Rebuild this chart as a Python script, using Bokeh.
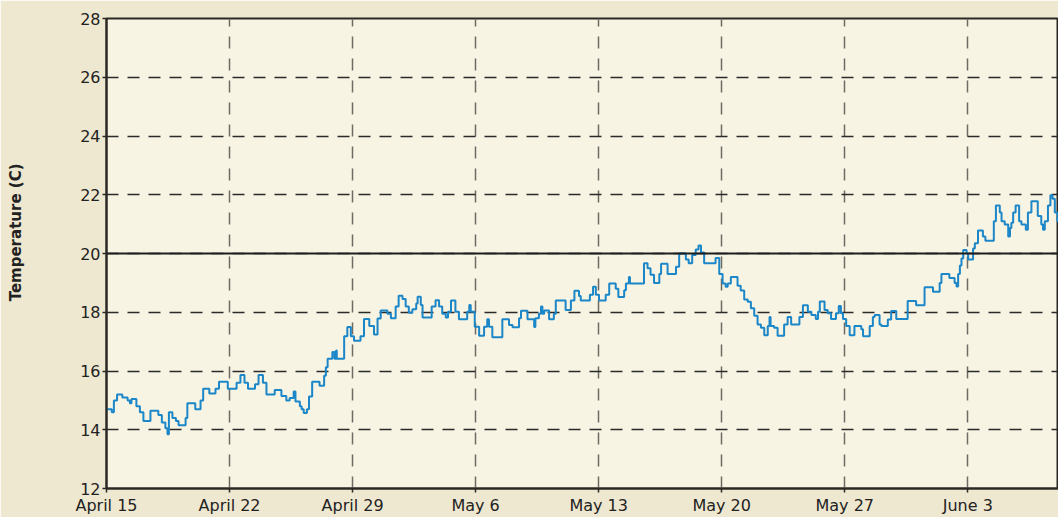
import re
from bokeh.plotting import figure
from bokeh.models import Range1d, FixedTicker, Span, Title
from bokeh.embed import file_html
from bokeh.resources import INLINE

# ---- data (days since April 15, temperature in C) ----
day = [
    0.00, 0.30, 0.42, 0.60, 0.90, 1.20, 1.33, 1.42, 1.70, 1.90, 2.10, 2.50, 2.95, 3.15, 3.35, 3.47, 3.55,
    3.75, 3.95, 4.10, 4.50, 4.60, 5.05, 5.35, 5.50, 5.85, 6.20, 6.40, 6.90, 7.40, 7.62, 7.85, 8.05, 8.45,
    8.65, 8.90, 9.10,
    9.57, 9.95, 10.23, 10.42, 10.65, 10.75, 11.00, 11.10, 11.22, 11.40, 11.52, 11.70, 12.12, 12.38, 12.48,
    12.58, 12.85, 12.97, 13.06, 13.10, 13.52, 13.70, 13.90, 14.08, 14.45, 14.65, 14.95, 15.22, 15.42, 15.60,
    15.98, 16.18, 16.45, 16.62, 16.84, 17.02, 17.20, 17.40, 17.62, 17.70, 17.88, 17.98, 18.50, 18.72, 18.92,
    19.10, 19.30,
    19.43, 19.60, 19.85, 20.05, 20.52, 20.64, 20.72, 20.95, 21.20, 21.48, 21.66, 21.76, 21.95, 22.52, 22.90,
    23.10, 23.47, 23.58, 23.95, 24.33, 24.40, 24.60, 24.72, 24.80, 24.90, 25.18, 25.45, 25.56, 26.12, 26.42,
    26.62, 26.88, 26.98, 27.50, 27.68, 27.84, 28.02, 28.40, 28.60,
    28.97, 29.12, 29.45, 29.55, 29.72, 29.78, 30.58, 30.78, 30.95, 31.15, 31.45, 31.55, 31.92, 32.40, 32.58,
    32.96, 33.12, 33.32, 33.52, 33.68, 33.82, 34.00, 34.65, 34.86, 35.05, 35.22, 35.34, 35.52, 35.90, 36.08,
    36.28, 36.48, 36.66, 36.85, 37.04, 37.23, 37.42, 37.62, 37.72, 37.78, 37.98, 38.18,
    38.55, 38.75, 38.95, 39.42, 39.62, 39.90, 40.10, 40.35, 40.48, 40.58, 40.85, 41.03, 41.22, 41.50, 41.66,
    41.78, 41.90, 42.08, 42.28, 42.55, 42.94, 43.04, 43.42, 43.60, 43.70, 43.98, 44.08, 44.45, 44.64, 44.93,
    45.58, 46.06, 46.54,
    47.02, 47.40, 47.50, 47.95, 48.25, 48.36, 48.45, 48.55, 48.64, 48.74, 48.93, 49.02, 49.30, 49.40, 49.58,
    49.86, 50.00, 50.48, 50.60, 50.82, 50.92, 51.10, 51.30, 51.40, 51.48, 51.58, 51.72, 51.92, 52.05, 52.30,
    52.42, 52.62, 52.98, 53.18, 53.28, 53.38, 53.56, 53.70, 53.82, 53.95, 54.10, 54.40,
]
temp_c = [
    14.7, 14.6, 15.0, 15.2, 15.1, 15.0, 14.9, 15.05, 14.8, 14.6, 14.3, 14.65, 14.5, 14.25, 14.05, 13.85, 14.6,
    14.4, 14.3, 14.15, 14.4, 14.9, 14.7, 15.0, 15.4, 15.23, 15.4, 15.63, 15.4, 15.6, 15.86, 15.6, 15.4, 15.55,
    15.86, 15.6, 15.2,
    15.35, 15.15, 15.0, 15.08, 15.3, 14.96, 14.8, 14.7, 14.57, 14.7, 15.13, 15.63, 15.5, 15.84, 16.13,
    16.42, 16.65, 16.42, 16.7, 16.42, 17.18, 17.5, 17.18, 17.03, 17.18, 17.77, 17.53, 17.24, 17.79, 18.06,
    17.95, 17.8, 18.2, 18.56, 18.45, 18.2, 17.98, 18.1, 18.3, 18.53, 18.25, 17.82, 18.2, 18.41, 18.2,
    17.95, 17.82,
    18.02, 18.4, 18.02, 17.76, 18.02, 18.25, 18.02, 17.51, 17.2, 17.51, 17.76, 17.51, 17.15, 17.76, 17.57,
    17.49, 17.8, 18.05, 17.76, 17.5, 17.8, 17.95, 18.2, 17.95, 18.06, 17.76, 17.95, 18.4, 18.08, 18.4,
    18.73, 18.55, 18.4, 18.6, 18.87, 18.6, 18.4, 18.6, 18.98,
    18.8, 18.52, 18.75, 18.98, 19.2, 18.98, 19.67, 19.5, 19.28, 19.0, 19.3, 19.65, 19.3, 19.55, 20.0,
    19.8, 19.67, 19.95, 20.14, 20.27, 20.03, 19.67, 19.85, 19.3, 18.98, 18.87, 18.98, 19.2, 18.9, 18.74,
    18.43, 18.36, 18.14, 17.88, 17.58, 17.47, 17.22, 17.53, 17.84, 17.53, 17.47, 17.2,
    17.58, 17.84, 17.58, 17.84, 18.24, 18.02, 17.91, 17.77, 18.02, 18.37, 18.08, 17.97, 17.77, 17.97, 18.21,
    17.97, 17.77, 17.53, 17.22, 17.53, 17.42, 17.18, 17.53, 17.84, 17.91, 17.58, 17.53, 17.75, 18.04, 17.77,
    18.38, 18.24, 18.85,
    18.7, 19.0, 19.3, 19.17, 19.0, 18.88, 19.3, 19.59, 19.83, 20.12, 20.0, 19.8, 20.17, 20.35, 20.78,
    20.58, 20.43, 21.1, 21.63, 21.4, 21.1, 20.99, 20.58, 20.87, 21.05, 21.4, 21.63, 21.1, 20.99, 20.81,
    21.4, 21.78, 21.28, 20.99, 20.81, 21.1, 21.63, 21.98, 21.86, 21.4, 21.1, 21.0,
]
tick_days = [0, 7, 14, 21, 28, 35, 42, 49]
tick_labels = ["April 15", "April 22", "April 29", "May 6", "May 13", "May 20", "May 27", "June 3"]
y_ticks = [12, 14, 16, 18, 20, 22, 24, 26, 28]
y_label = "Temperature (C)"

OUTER = "#efe8d0"
INNER = "#f7f4e3"
INK = "#2b2824"

p = figure(width=1058, height=517, output_backend="svg", toolbar_location=None,
           x_range=Range1d(0, 54.16), y_range=Range1d(12, 28),
           min_border_left=106, min_border_right=0, min_border_top=18, min_border_bottom=28)
p.background_fill_color = INNER
p.border_fill_color = OUTER
p.outline_line_color = INK
p.outline_line_width = 2

# axes
p.xaxis.ticker = FixedTicker(ticks=tick_days)
p.xaxis.major_label_overrides = {d: l for d, l in zip(tick_days, tick_labels)}
p.yaxis.ticker = FixedTicker(ticks=y_ticks)
for ax in (p.xaxis, p.yaxis):
    ax.axis_line_color = INK
    ax.axis_line_width = 2
    ax.major_tick_line_color = INK
    ax.major_tick_line_width = 1.5
    ax.major_tick_in = 0
    ax.major_tick_out = 4
    ax.minor_tick_line_color = None
    ax.major_label_text_font = "DejaVu Sans"
    ax.major_label_text_font_size = "16px"
    ax.major_label_text_color = "#222222"
p.xaxis.major_label_standoff = 3
p.yaxis.major_label_standoff = 2

# grid
p.xgrid.grid_line_color = "#6e6a63"
p.xgrid.grid_line_width = 1.5
p.xgrid.grid_line_dash = "12 10"
p.ygrid.grid_line_color = "#2a2a2a"
p.ygrid.grid_line_width = 1.5
p.ygrid.grid_line_dash = "12 9"

p.add_layout(Span(location=20, dimension="width", line_color="#1e1e1e", line_width=1.8))

p.step(day, temp_c, mode="after", line_color="#1b86c8", line_width=2)

# blank spacer between the y axis and its title, then the title itself
has_standoff = "standoff" in Title.properties()
spacer = Title(text=" ", text_font_size="1px")
if has_standoff:
    spacer.standoff = 46
p.add_layout(spacer, "left")

t = Title(text=y_label, align="right", offset=145,
          text_font="DejaVu Sans", text_font_style="bold",
          text_font_size="15px", text_color="#222222")
if has_standoff:
    t.standoff = 8
p.add_layout(t, "left")

html = file_html(p, INLINE)
html = re.sub(r"<body>", '<body style="background:%s">' % OUTER, html, count=1)
open("out.html", "w").write(html)
